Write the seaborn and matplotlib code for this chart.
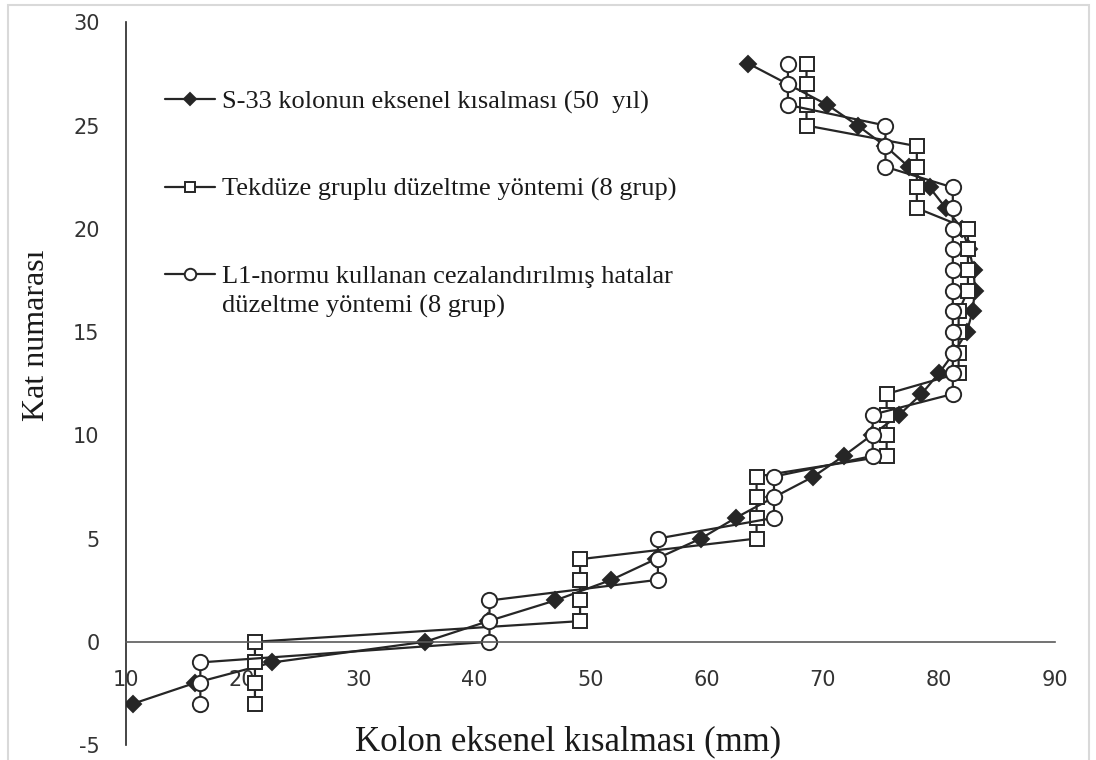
import numpy as np
import pandas as pd
import matplotlib
matplotlib.use("Agg")
import matplotlib.pyplot as plt
import seaborn as sns
from matplotlib.patches import Rectangle

# ---- data ----
floors = list(range(-3, 29))
s33_shortening = [10.6, 15.9, 22.6, 35.75, 41.2, 46.95, 51.8, 55.6, 59.5, 62.5,
                  65.8, 69.2, 71.8, 74.2, 76.6, 78.5, 80.0, 81.3, 82.4, 82.9,
                  83.1, 83.0, 82.6, 82.0, 80.6, 79.2, 77.4, 75.4, 73.0, 70.4,
                  67.0, 63.6]
uniform_group = [21.1, 21.1, 21.1, 21.1, 49.1, 49.1, 49.1, 49.1, 64.3, 64.3,
                 64.3, 64.3, 75.5, 75.5, 75.5, 75.5, 81.7, 81.7, 81.7, 81.7,
                 82.5, 82.5, 82.5, 82.5, 78.1, 78.1, 78.1, 78.1, 68.6, 68.6,
                 68.6, 68.6]
l1_penalized = [16.4, 16.4, 16.4, 41.3, 41.3, 41.3, 55.8, 55.8, 55.8, 65.8,
                65.8, 65.8, 74.3, 74.3, 74.3, 81.2, 81.2, 81.2, 81.2, 81.2,
                81.2, 81.2, 81.2, 81.2, 81.2, 81.2, 75.4, 75.4, 75.4, 67.0,
                67.0, 67.0]
labels = ["S-33 kolonun eksenel kısalması (50  yıl)",
          "Tekdüze gruplu düzeltme yöntemi (8 grup)",
          "L1-normu kullanan cezalandırılmış hatalar",
          "düzeltme yöntemi (8 grup)"]
x_ticks = [10, 20, 30, 40, 50, 60, 70, 80, 90]
y_ticks = [-5, 0, 5, 10, 15, 20, 25, 30]
x_label = "Kolon eksenel kısalması (mm)"
y_label = "Kat numarası"

sns.set_theme(style="white")
plt.rcParams['font.family'] = ['DejaVu Sans']
plt.rcParams['axes.unicode_minus'] = False

fig = plt.figure(figsize=(10.96, 7.6), dpi=100)
ax = fig.add_axes([0.115, 0.0197, 0.8476, 0.951])

line_col = "#262626"
series = [
    (s33_shortening, "D", 8, line_col, labels[0]),
    (uniform_group, "s", 10, "white", labels[1]),
    (l1_penalized, "o", 11, "white", labels[2]),
]
for vals, mk, ms, fc, lab in series:
    sns.lineplot(x=vals, y=floors, sort=False, estimator=None, ax=ax,
                 color=line_col, linewidth=1.6, marker=mk, markersize=ms,
                 markerfacecolor=fc, markeredgecolor=line_col,
                 markeredgewidth=1.4, label=lab)

ax.set_xlim(10, 90)
ax.set_ylim(-5, 30)
ax.set_xticks(x_ticks)
ax.set_yticks(y_ticks)
ax.spines['top'].set_visible(False)
ax.spines['right'].set_visible(False)
ax.spines['bottom'].set_position(('data', 0))
ax.spines['bottom'].set_color('#5a5a5a')
ax.spines['bottom'].set_linewidth(1.2)
ax.spines['left'].set_color('#262626')
ax.spines['left'].set_linewidth(1.2)
ax.tick_params(axis='x', length=0, pad=20, labelsize=15, labelcolor='#333333')
ax.tick_params(axis='y', length=0, pad=19, labelsize=15, labelcolor='#333333')
ax.grid(False)

ax.set_xlabel(x_label, fontsize=25, family='Liberation Serif', color='#1a1a1a')
ax.xaxis.set_label_coords(0.476, 0.004)
ax.xaxis.label.set_va('center')
ax.set_ylabel(y_label, fontsize=23, family='Liberation Serif', color='#1a1a1a')
ax.yaxis.set_label_coords(-0.096, 0.567)
ax.yaxis.label.set_va('center')

leg = ax.legend(loc='upper left', bbox_to_anchor=(0.042, 0.906), frameon=False,
                prop={'family': 'Liberation Serif', 'size': 19},
                handlelength=1.9, handletextpad=0.27, labelspacing=2.4,
                borderpad=0, borderaxespad=0, markerscale=0.75)
for t in leg.get_texts():
    t.set_color('#1a1a1a')

fig.canvas.draw()
bb = leg.get_texts()[2].get_window_extent()
x0, y0 = fig.transFigure.inverted().transform((bb.x0, bb.y0 - 7))
fig.text(x0, y0, labels[3], family='Liberation Serif', fontsize=19,
         color='#1a1a1a', ha='left', va='top')

fig.patches.append(Rectangle((0.0073, -0.02), 0.9863, 1.0134, transform=fig.transFigure,
                             fill=False, edgecolor='#d9d9d9', linewidth=1.5))

fig.savefig("out.png", dpi=100)
